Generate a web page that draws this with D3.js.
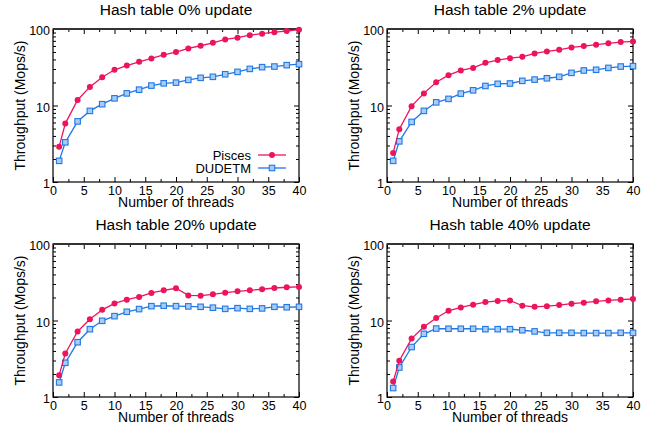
<!DOCTYPE html>
<html lang="en">
<head>
<meta charset="utf-8">
<script src="https://d3js.org/d3.v7.min.js"></script>
<style>
  body { margin: 0; background: #fff; }
  svg { font-family: "Liberation Sans", Arial, sans-serif; }
</style>
</head>
<body>
<div id="chart"></div>
<script>
// thread counts (x values) shared by every panel
var threads = [1, 2, 4, 6, 8, 10, 12, 14, 16, 18, 20, 22, 24, 26, 28, 30, 32, 34, 36, 38, 40];

var titles = ["Hash table 0% update", "Hash table 2% update", "Hash table 20% update", "Hash table 40% update"];
var seriesNames = ["Pisces", "DUDETM"];

// throughput in Mops/s
var pisces0 = [2.9, 5.8, 11.8, 17.5, 23.4, 29.3, 33.3, 37.3, 41.2, 46, 49.9, 55.7, 60.4, 66, 73, 77, 83, 87, 91, 94, 98];
var dudetm0 = [1.89, 3.3, 6.2, 8.5, 10.4, 12.4, 14.4, 16.1, 18.2, 19.5, 19.9, 21.6, 23, 23.7, 25.6, 27.5, 30.1, 31.7, 32.3, 33.7, 34.7];

var pisces2 = [2.4, 4.9, 9.8, 14.4, 20.1, 24.9, 28.7, 31, 36.1, 39.2, 41.6, 43.3, 48, 50.9, 53.5, 57.4, 59.8, 62.3, 64.9, 67.5, 68.9];
var dudetm2 = [1.89, 3.4, 6.1, 8.5, 11, 12.2, 14.3, 15.8, 18, 19.2, 19.4, 21, 21.8, 22.7, 23.7, 26.7, 28.7, 29.3, 31, 32.3, 32.7];

var pisces20 = [1.93, 3.7, 7.2, 10.4, 13.8, 16.7, 18.7, 20.3, 22.9, 24.8, 26.4, 21.3, 21.1, 22, 23.1, 24.1, 24.8, 25.6, 26.6, 27.2, 27.5];
var dudetm20 = [1.55, 2.8, 5.2, 7.7, 9.9, 11.4, 13, 14.1, 15.4, 15.6, 15.4, 15.3, 15.1, 14.7, 14.2, 14.5, 14.2, 14.4, 15.1, 14.9, 15.1];

var pisces40 = [1.59, 2.98, 5.8, 8.3, 10.8, 13.4, 14.8, 16.1, 17.4, 18, 18.3, 15.6, 15.1, 15.4, 15.9, 16.6, 17.1, 17.8, 18.3, 18.7, 19.1];
var dudetm40 = [1.31, 2.43, 4.5, 6.7, 7.85, 7.8, 7.8, 7.8, 7.7, 7.7, 7.7, 7.46, 7.2, 6.9, 6.9, 6.9, 6.85, 6.85, 6.85, 6.9, 6.9];

var xTicks = [0, 5, 10, 15, 20, 25, 30, 35, 40];
var yTicks = [1, 10, 100];

var panels = [
  { title: titles[0], pisces: pisces0, dudetm: dudetm0, left: 53, top: 29, legend: true },
  { title: titles[1], pisces: pisces2, dudetm: dudetm2, left: 387, top: 29 },
  { title: titles[2], pisces: pisces20, dudetm: dudetm20, left: 53, top: 244 },
  { title: titles[3], pisces: pisces40, dudetm: dudetm40, left: 387, top: 244 }
];

var W = 651, H = 425;
var pw = 246, ph = 153;
var red = "#ec145c", blue = "#1f78e4";

var svg = d3.select("#chart").append("svg")
  .attr("width", W).attr("height", H);

// minor y ticks 2..9, 20..90
var minorY = [];
[1, 10].forEach(function (d) { for (var k = 2; k <= 9; k++) minorY.push(d * k); });
var minorX = [2.5, 7.5, 12.5, 17.5, 22.5, 27.5, 32.5, 37.5];

function noDomain(a) { a.select(".domain").remove(); a.selectAll("line").attr("stroke", "#000"); }

panels.forEach(function (p) {
  var g = svg.append("g").attr("transform", "translate(" + p.left + "," + p.top + ")");

  var x = d3.scaleLinear().domain([0, 40]).range([0, pw]);
  var y = d3.scaleLog().domain([1, 100]).range([ph, 0]);

  // inward ticks (gnuplot style), mirrored
  var gx = g.append("g").attr("transform", "translate(0," + ph + ")")
    .call(d3.axisBottom(x).tickValues(xTicks).tickSize(-5).tickFormat(d3.format("d")))
    .call(noDomain);
  gx.selectAll("text").attr("y", 13).attr("dy", null);

  var gy = g.append("g")
    .call(d3.axisLeft(y).tickValues(yTicks).tickSize(-5).tickFormat(d3.format("d")))
    .call(noDomain);
  gy.selectAll("text").attr("x", -3).attr("dy", "0.45em");

  [gx, gy].forEach(function (a) {
    a.attr("font-family", null).attr("font-size", null);
    a.selectAll("text").attr("font-size", 12.5).attr("fill", "#000");
  });

  g.append("g").call(d3.axisTop(x).tickValues(xTicks).tickSize(-5).tickFormat("")).call(noDomain);
  g.append("g").attr("transform", "translate(" + pw + ",0)")
    .call(d3.axisRight(y).tickValues(yTicks).tickSize(-5).tickFormat("")).call(noDomain);

  // minor ticks
  g.append("g").attr("transform", "translate(0," + ph + ")")
    .call(d3.axisBottom(x).tickValues(minorX).tickSize(-3).tickFormat("")).call(noDomain);
  g.append("g").call(d3.axisTop(x).tickValues(minorX).tickSize(-3).tickFormat("")).call(noDomain);
  g.append("g").call(d3.axisLeft(y).tickValues(minorY).tickSize(-3).tickFormat("")).call(noDomain);
  g.append("g").attr("transform", "translate(" + pw + ",0)")
    .call(d3.axisRight(y).tickValues(minorY).tickSize(-3).tickFormat("")).call(noDomain);

  // frame
  g.append("rect").attr("width", pw).attr("height", ph)
    .attr("fill", "none").attr("stroke", "#000").attr("stroke-width", 1.2);
  g.append("line").attr("x1", 0).attr("x2", pw).attr("y1", 0).attr("y2", 0)
    .attr("stroke", "#333").attr("stroke-width", 2);

  var line = d3.line()
    .x(function (d, i) { return x(threads[i]); })
    .y(function (d) { return y(d); });

  // DUDETM
  g.append("path").datum(p.dudetm)
    .attr("fill", "none").attr("stroke", blue).attr("stroke-width", 1.3)
    .attr("d", line);
  g.selectAll(".sq").data(p.dudetm).enter().append("rect")
    .attr("x", function (d, i) { return x(threads[i]) - 2.75; })
    .attr("y", function (d) { return y(d) - 2.75; })
    .attr("width", 5.5).attr("height", 5.5)
    .attr("fill", "#a9cbf4").attr("stroke", blue).attr("stroke-width", 1.1);

  // Pisces
  g.append("path").datum(p.pisces)
    .attr("fill", "none").attr("stroke", red).attr("stroke-width", 1.3)
    .attr("d", line);
  g.selectAll(".dot").data(p.pisces).enter().append("circle")
    .attr("cx", function (d, i) { return x(threads[i]); })
    .attr("cy", function (d) { return y(d); })
    .attr("r", 3).attr("fill", red);

  // titles and axis labels
  g.append("text").attr("x", pw / 2).attr("y", -14)
    .attr("text-anchor", "middle").attr("font-size", 15.5).text(p.title);
  g.append("text").attr("x", pw / 2).attr("y", ph + 25)
    .attr("text-anchor", "middle").attr("font-size", 14).text("Number of threads");
  g.append("text")
    .attr("transform", "translate(-28," + (ph / 2) + ") rotate(-90)")
    .attr("text-anchor", "middle").attr("font-size", 14).text("Throughput (Mops/s)");

  if (p.legend) {
    var lg = g.append("g").attr("transform", "translate(" + (pw - 41) + "," + (ph - 27) + ")");
    seriesNames.forEach(function (name, i) {
      var row = lg.append("g").attr("transform", "translate(0," + (i * 13) + ")");
      row.append("text").attr("x", -7).attr("y", 4.5).attr("text-anchor", "end")
        .attr("font-size", 13).text(name);
      row.append("line").attr("x1", 0).attr("x2", 28).attr("y1", 0).attr("y2", 0)
        .attr("stroke", i === 0 ? red : blue).attr("stroke-width", 1.3);
      if (i === 0) {
        row.append("circle").attr("cx", 14).attr("cy", 0).attr("r", 3).attr("fill", red);
      } else {
        row.append("rect").attr("x", 11.25).attr("y", -2.75).attr("width", 5.5).attr("height", 5.5)
          .attr("fill", "#a9cbf4").attr("stroke", blue).attr("stroke-width", 1.1);
      }
    });
  }
});
</script>
</body>
</html>
